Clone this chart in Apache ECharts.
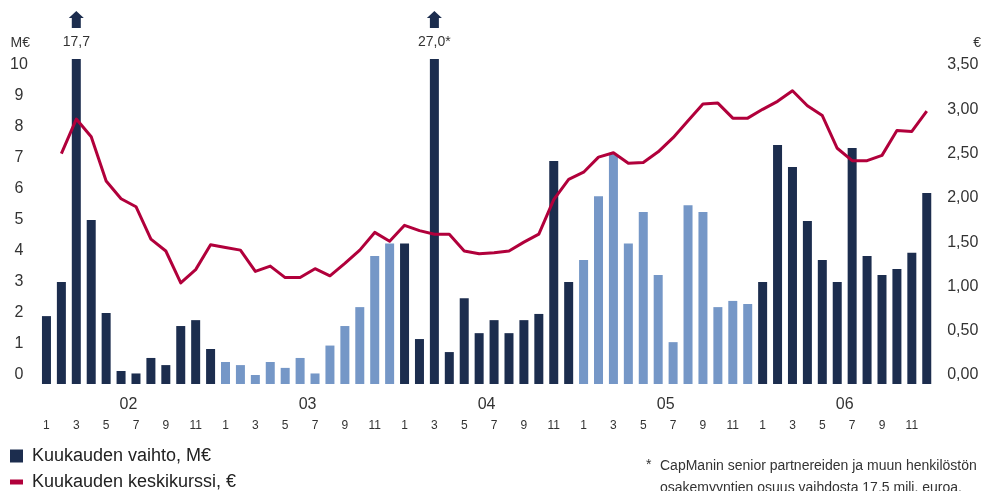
<!DOCTYPE html>
<html>
<head>
<meta charset="utf-8">
<title>Kuukauden vaihto ja keskikurssi 2002-2006</title>
<script src="https://cdn.jsdelivr.net/npm/echarts@6/dist/echarts.min.js"></script>
<style>
  html, body { margin: 0; padding: 0; background: #fff; }
  #chart { width: 984px; height: 491px; }
</style>
</head>
<body>
<div id="chart"></div>
<script>
// data
var years = ['02', '03', '04', '05', '06'];
var monthNumbers = [1, 2, 3, 4, 5, 6, 7, 8, 9, 10, 11, 12];

// monthly turnover, M€ (Jan 2002 .. Dec 2006)
var turnover2002 = [1.9, 3.0, 17.7, 5.0, 2.0, 0.13, 0.05, 0.55, 0.32, 1.58, 1.77, 0.84];
var turnover2003 = [0.42, 0.32, 0.0, 0.42, 0.23, 0.55, 0.05, 0.95, 1.58, 2.19, 3.84, 4.24];
var turnover2004 = [4.24, 1.16, 27.0, 0.74, 2.48, 1.35, 1.77, 1.35, 1.77, 1.97, 6.9, 3.0];
var turnover2005 = [3.71, 5.77, 7.13, 4.24, 5.26, 3.23, 1.06, 5.48, 5.26, 2.19, 2.39, 2.29];
var turnover2006 = [3.0, 7.42, 6.71, 4.97, 3.71, 3.0, 7.32, 3.84, 3.23, 3.42, 3.94, 5.87];

// monthly average share price, €
var price2002 = [null, 2.50, 2.89, 2.69, 2.19, 1.99, 1.90, 1.535, 1.40, 1.04, 1.19, 1.47];
var price2003 = [1.44, 1.41, 1.17, 1.23, 1.10, 1.10, 1.20, 1.12, 1.26, 1.41, 1.61, 1.51];
var price2004 = [1.69, 1.63, 1.59, 1.59, 1.40, 1.37, 1.38, 1.40, 1.50, 1.59, 1.98, 2.21];
var price2005 = [2.29, 2.46, 2.51, 2.39, 2.40, 2.52, 2.68, 2.87, 3.06, 3.07, 2.90, 2.90];
var price2006 = [3.00, 3.09, 3.21, 3.04, 2.93, 2.56, 2.42, 2.42, 2.48, 2.76, 2.75, 2.98];

var leftTicks = [0, 1, 2, 3, 4, 5, 6, 7, 8, 9, 10];
var rightTicks = [0, 0.5, 1, 1.5, 2, 2.5, 3, 3.5];
var footnoteMonth = '3/04';   // the bar the asterisk refers to

var turnover = [].concat(turnover2002, turnover2003, turnover2004, turnover2005, turnover2006);
var price = [].concat(price2002, price2003, price2004, price2005, price2006);

var months = [];
years.forEach(function (y) {
    monthNumbers.forEach(function (m) { months.push(m + '/' + y); });
});

var NAVY = '#1c2d4e';
var LIGHT = '#7597c7';
var RED = '#b1003b';
var TEXT = '#333333';
var FONT = '"Liberation Sans", Arial, sans-serif';

// axis ranges: zero sits a little above the bar baseline, bars are cut at the top
var leftMin = -0.29, leftMax = 10.194;
var rightMin = -0.1016, rightMax = 3.568;

function comma(v, d) {
    return v.toFixed(d).replace('.', ',');
}

// bars taller than the axis get an arrow and their value printed above
var overflowMarks = [];
turnover.forEach(function (v, i) {
    if (v > leftMax) {
        overflowMarks.push({
            name: comma(v, 1) + (months[i] === footnoteMonth ? '*' : ''),
            coord: [months[i], leftMax]
        });
    }
});

var chart = echarts.init(document.getElementById('chart'), null, { renderer: 'canvas' });

var option = {
    animation: false,
    backgroundColor: '#fff',
    textStyle: { fontFamily: FONT },
    grid: { left: 39, right: 48, top: 59, bottom: 107, containLabel: false },
    legend: [
        {
            left: 10, top: 447, padding: 0, orient: 'vertical',
            itemWidth: 13, itemHeight: 13, selectedMode: false,
            textStyle: { fontSize: 18, color: '#222', fontFamily: FONT, padding: [0, 0, 0, 4] },
            data: [{ name: 'Kuukauden vaihto, M€', icon: 'rect', itemStyle: { color: NAVY } }]
        },
        {
            left: 10, top: 473, padding: 0, orient: 'vertical',
            itemWidth: 13, itemHeight: 5, selectedMode: false,
            textStyle: { fontSize: 18, color: '#222', fontFamily: FONT, padding: [0, 0, 0, 4] },
            data: [{ name: 'Kuukauden keskikurssi, €', icon: 'rect', itemStyle: { color: RED } }]
        }
    ],
    xAxis: [
        {
            type: 'category', position: 'bottom', data: months, boundaryGap: true,
            axisLine: { show: false }, axisTick: { show: false },
            axisLabel: {
                interval: 1, margin: 36, fontSize: 12, color: TEXT, fontFamily: FONT,
                formatter: function (v) { return v.split('/')[0]; }
            }
        },
        {
            type: 'category', position: 'bottom', data: years, boundaryGap: true,
            axisLine: { show: false }, axisTick: { show: false },
            axisLabel: { margin: 13, fontSize: 16, color: TEXT, fontFamily: FONT }
        }
    ],
    yAxis: [
        {
            type: 'value', position: 'left', min: leftMin, max: leftMax, startValue: leftMin,
            name: 'M€', nameLocation: 'end', nameGap: 9,
            nameTextStyle: { fontSize: 14, color: TEXT, align: 'right', padding: [0, 9, 0, 0] },
            axisLine: { show: false }, axisTick: { show: false }, splitLine: { show: false },
            axisLabel: {
                customValues: leftTicks, align: 'center', margin: 20,
                fontSize: 16, color: TEXT, fontFamily: FONT
            }
        },
        {
            type: 'value', position: 'right', min: rightMin, max: rightMax,
            name: '€', nameLocation: 'end', nameGap: 9,
            nameTextStyle: { fontSize: 14, color: TEXT, align: 'left', padding: [0, 0, 0, 39] },
            axisLine: { show: false }, axisTick: { show: false }, splitLine: { show: false },
            axisLabel: {
                customValues: rightTicks, margin: 13,
                fontSize: 16, color: TEXT, fontFamily: FONT,
                formatter: function (v) { return comma(v, 2); }
            }
        }
    ],
    series: [
        {
            name: 'Kuukauden vaihto, M€',
            type: 'bar',
            xAxisIndex: 0, yAxisIndex: 0,
            data: turnover,
            barWidth: 9,
            itemStyle: {
                color: function (p) {
                    return Math.floor(p.dataIndex / 12) % 2 === 0 ? NAVY : LIGHT;
                }
            },
            markPoint: {
                symbol: 'path://M7.5,0 L15,7 L12,7 L12,17 L3,17 L3,7 L0,7 Z',
                symbolSize: [15, 17],
                symbolOffset: [0, -39.5],
                itemStyle: { color: NAVY },
                label: {
                    show: true, position: 'bottom', distance: 7,
                    fontSize: 14, color: TEXT, fontFamily: FONT,
                    formatter: function (p) { return p.name; }
                },
                data: overflowMarks
            }
        },
        {
            name: 'Kuukauden keskikurssi, €',
            type: 'line',
            xAxisIndex: 0, yAxisIndex: 1,
            data: price,
            symbol: 'none',
            lineStyle: { color: RED, width: 3, join: 'round' },
            itemStyle: { color: RED }
        }
    ],
    graphic: [
        {
            type: 'text', left: 646, top: 458,
            style: { text: '*', font: '14px ' + FONT, fill: TEXT }
        },
        {
            type: 'text', left: 660, top: 455,
            style: {
                text: 'CapManin senior partnereiden ja muun henkilöstön\nosakemyyntien osuus vaihdosta 17,5 milj. euroa.',
                font: '14px ' + FONT, fill: TEXT, lineHeight: 22
            }
        }
    ]
};

chart.setOption(option);
</script>
</body>
</html>
